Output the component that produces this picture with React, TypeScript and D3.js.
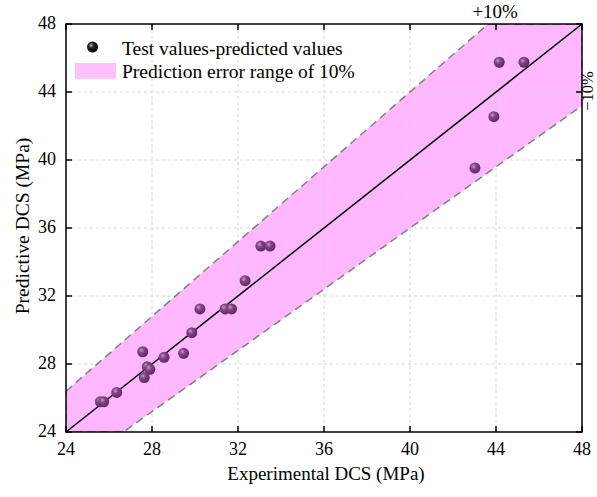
import React from "react";
import * as d3 from "d3";

// Experimental vs predicted DCS (MPa)
const experimental = [25.6, 25.75, 26.36, 27.57, 27.78, 27.9, 27.64, 28.56, 29.47, 29.85, 30.23, 31.4, 31.7, 32.33, 33.06, 33.49, 43.02, 43.9, 44.15, 45.3];
const predicted = [25.78, 25.78, 26.33, 28.72, 27.84, 27.69, 27.2, 28.39, 28.63, 29.84, 31.24, 31.24, 31.24, 32.9, 34.94, 34.94, 39.53, 42.55, 45.75, 45.75];
const ticks = [24, 28, 32, 36, 40, 44, 48];
const errorRate = 0.1;
const legendLabels = ["Test values-predicted values", "Prediction error range of 10%"];

const W = 597;
const H = 497;
const M = { left: 66, right: 582, top: 24, bottom: 432 };
const FONT = "'Liberation Serif', 'Times New Roman', serif";

export default function App() {
  const x = d3.scaleLinear().domain([24, 48]).range([M.left, M.right]);
  const y = d3.scaleLinear().domain([24, 48]).range([M.bottom, M.top]);
  const [lo, hi] = x.domain();

  // ±10% band clipped to the plot window
  const band: [number, number][] = [
    [lo, lo * (1 + errorRate)],
    [hi / (1 + errorRate), hi],
    [hi, hi],
    [hi, hi * (1 - errorRate)],
    [lo / (1 - errorRate), lo],
    [lo, lo],
  ];
  const line = d3
    .line<[number, number]>()
    .x((d) => x(d[0]))
    .y((d) => y(d[1]));
  const bandPath = line(band) + "Z";

  const pts = experimental.map((e, i) => [e, predicted[i]] as [number, number]);
  const tickLen = 6;

  return (
    <svg width={W} height={H} style={{ position: "absolute", left: 0, top: 0, background: "#fff" }} fontFamily={FONT}>
      <defs>
        <radialGradient id="ball" cx="0.38" cy="0.35" r="0.7">
          <stop offset="0" stopColor="#c89ac8" />
          <stop offset="0.35" stopColor="#844585" />
          <stop offset="1" stopColor="#5a2460" />
        </radialGradient>
        <radialGradient id="ballK" cx="0.38" cy="0.35" r="0.7">
          <stop offset="0" stopColor="#bbbbbb" />
          <stop offset="0.35" stopColor="#222" />
          <stop offset="1" stopColor="#000" />
        </radialGradient>
        <clipPath id="plotClip">
          <rect x={M.left} y={M.top} width={M.right - M.left} height={M.bottom - M.top} />
        </clipPath>
      </defs>

      {/* error band */}
      <path d={bandPath} fill="#ffb8ff" stroke="none" />

      {/* grid */}
      <g stroke="#d0d0d0" strokeWidth={1} strokeDasharray="3,3" opacity={0.9}>
        {ticks.slice(1, -1).map((t) => (
          <line key={"gx" + t} x1={x(t)} x2={x(t)} y1={M.top} y2={M.bottom} />
        ))}
        {ticks.slice(1, -1).map((t) => (
          <line key={"gy" + t} x1={M.left} x2={M.right} y1={y(t)} y2={y(t)} />
        ))}
      </g>

      {/* band outline */}
      <path d={bandPath} fill="none" stroke="#7f7f7f" strokeWidth={1.5} strokeDasharray="8,5" clipPath="url(#plotClip)" />

      {/* 1:1 line */}
      <line x1={x(lo)} y1={y(lo)} x2={x(hi)} y2={y(hi)} stroke="#000" strokeWidth={1.5} />

      {/* points */}
      {pts.map((p, i) => (
        <circle key={i} cx={x(p[0])} cy={y(p[1])} r={5.5} fill="url(#ball)" />
      ))}

      {/* frame and ticks */}
      <rect x={M.left} y={M.top} width={M.right - M.left} height={M.bottom - M.top} fill="none" stroke="#000" strokeWidth={1.5} />
      <g stroke="#000" strokeWidth={1.5}>
        {ticks.map((t) => (
          <g key={"t" + t}>
            <line x1={x(t)} x2={x(t)} y1={M.bottom} y2={M.bottom - tickLen} />
            <line x1={x(t)} x2={x(t)} y1={M.top} y2={M.top + tickLen} />
            <line x1={M.left} x2={M.left + tickLen} y1={y(t)} y2={y(t)} />
            <line x1={M.right} x2={M.right - tickLen} y1={y(t)} y2={y(t)} />
          </g>
        ))}
      </g>

      {/* tick labels */}
      <g fontSize={18} fill="#000">
        {ticks.map((t) => (
          <text key={"xl" + t} x={x(t)} y={M.bottom + 23} textAnchor="middle">
            {t}
          </text>
        ))}
        {ticks.map((t) => (
          <text key={"yl" + t} x={M.left - 10} y={y(t) + 5} textAnchor="end">
            {t}
          </text>
        ))}
      </g>

      {/* axis titles */}
      <text x={326} y={480} textAnchor="middle" fontSize={19}>
        Experimental DCS (MPa)
      </text>
      <text transform={`translate(29,226) rotate(-90)`} textAnchor="middle" fontSize={19.5}>
        Predictive DCS (MPa)
      </text>

      {/* band labels */}
      <text x={x(hi / (1 + errorRate)) + 7} y={18} textAnchor="middle" fontSize={19}>
        +10%
      </text>
      <text transform={`translate(593,91) rotate(-90)`} textAnchor="middle" fontSize={16.5}>
        −10%
      </text>

      {/* legend */}
      <circle cx={92.5} cy={47} r={5.5} fill="url(#ballK)" />
      <text x={122} y={55} fontSize={19.5}>
        {legendLabels[0]}
      </text>
      <rect x={75} y={63} width={41} height={16} fill="#ffc0ff" />
      <text x={122} y={78} fontSize={19.5}>
        {legendLabels[1]}
      </text>
    </svg>
  );
}
